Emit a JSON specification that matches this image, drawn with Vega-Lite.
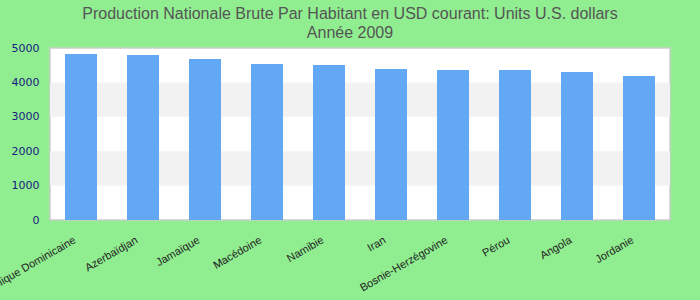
{
  "$schema": "https://vega.github.io/schema/vega-lite/v6.json",
  "autosize": "none",
  "width": 620,
  "height": 172,
  "padding": {"left": 50, "top": 48, "right": 30, "bottom": 80},
  "background": "#90EE90",
  "title": {
    "text": ["Production Nationale Brute Par Habitant en USD courant: Units U.S. dollars", "Année 2009"],
    "anchor": "middle",
    "dx": -10,
    "font": "Liberation Sans",
    "fontSize": 16,
    "fontWeight": "normal",
    "color": "#555555",
    "lineHeight": 19,
    "offset": 1
  },
  "datasets": {
    "bars": [
      {"pays": "République Dominicaine", "valeur": 4826},
      {"pays": "Azerbaïdjan", "valeur": 4797},
      {"pays": "Jamaïque", "valeur": 4680},
      {"pays": "Macédoine", "valeur": 4535},
      {"pays": "Namibie", "valeur": 4506},
      {"pays": "Iran", "valeur": 4390},
      {"pays": "Bosnie-Herzégovine", "valeur": 4360},
      {"pays": "Pérou", "valeur": 4360},
      {"pays": "Angola", "valeur": 4302},
      {"pays": "Jordanie", "valeur": 4186}
    ],
    "bands": [
      {"bas": 1000, "haut": 2000},
      {"bas": 3000, "haut": 4000}
    ]
  },
  "config": {
    "view": {"fill": "#ffffff", "stroke": "#cccccc", "strokeWidth": 1.5},
    "axisY": {
      "values": [0, 1000, 2000, 3000, 4000, 5000],
      "format": "d",
      "grid": false,
      "ticks": false,
      "domain": false,
      "labelOverlap": false,
      "labelFont": "DejaVu Sans",
      "labelFontSize": 11,
      "labelColor": "#1a1a80",
      "labelPadding": 11,
      "title": null
    }
  },
  "layer": [
    {
      "data": {"name": "bands"},
      "mark": {"type": "rect", "color": "#f2f2f2"},
      "encoding": {
        "y": {
          "field": "bas",
          "type": "quantitative",
          "title": null,
          "scale": {"domain": [0, 5000]},
          "axis": {"values": [0, 1000, 2000, 3000, 4000, 5000], "labelOverlap": false, "tickCount": 6}
        },
        "y2": {"field": "haut"}
      }
    },
    {
      "data": {"name": "bars"},
      "mark": {"type": "bar", "color": "#63A8F5"},
      "encoding": {
        "x": {
          "field": "pays",
          "type": "nominal",
          "sort": null,
          "title": null,
          "scale": {"paddingInner": 0.484, "paddingOuter": 0.242},
          "axis": {
            "labelAngle": -30,
            "labelAlign": "right",
            "labelBaseline": "top",
            "labelFont": "Liberation Sans",
            "labelFontSize": 11,
            "labelColor": "#222222",
            "labelPadding": 14,
            "labelOffset": -9,
            "ticks": false,
            "domain": false,
            "labelOverlap": false,
            "labelBound": false
          }
        },
        "y": {
          "field": "valeur",
          "type": "quantitative",
          "title": null,
          "scale": {"domain": [0, 5000]},
          "axis": {"values": [0, 1000, 2000, 3000, 4000, 5000], "labelOverlap": false, "tickCount": 6}
        }
      }
    }
  ]
}
